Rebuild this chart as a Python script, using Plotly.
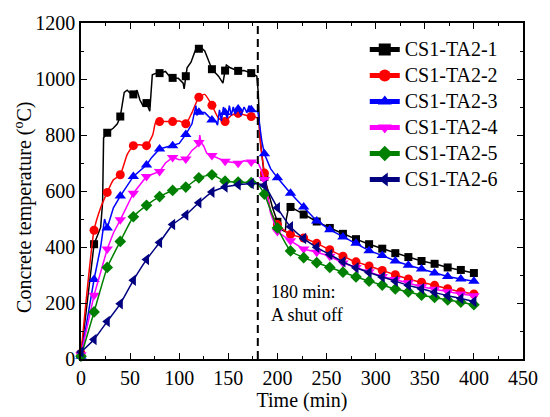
import plotly.graph_objects as go

# ---------------- data ----------------
names = ["CS1-TA2-1", "CS1-TA2-2", "CS1-TA2-3", "CS1-TA2-4", "CS1-TA2-5", "CS1-TA2-6"]

t_mark = [0, 13.3, 26.7, 40, 53.3, 66.7, 80, 93.3, 106.7, 120, 133.3, 146.7, 160, 173.3,
          186.7, 200, 213.3, 226.7, 240, 253.3, 266.7, 280, 293.3, 306.7, 320, 333.3,
          346.7, 360, 373.3, 386.7, 400]

T1 = [15, 410, 808, 866, 945, 914, 1021, 1004, 1010, 1108, 1035, 1030, 1029, 1021,
      650, 490, 543, 516, 491, 468, 447, 428, 410, 394, 378, 364, 350, 340, 327, 318, 307]
T2 = [20, 460, 595, 658, 762, 762, 848, 848, 840, 935, 906, 848, 877, 866,
      664, 480, 445, 432, 413, 390, 367, 347, 332, 316, 301, 286, 274, 263, 251, 240, 232]
T3 = [10, 284, 468, 582, 652, 693, 750, 762, 802, 881, 854, 880, 893, 890,
      733, 647, 592, 543, 493, 462, 436, 413, 387, 370, 350, 335, 321, 307, 295, 286, 278]
T4 = [15, 228, 393, 497, 592, 652, 670, 720, 714, 773, 727, 706, 699, 704,
      641, 455, 422, 393, 381, 367, 343, 327, 312, 295, 284, 272, 258, 249, 240, 232, 226]
T5 = [10, 168, 327, 420, 508, 549, 580, 602, 614, 647, 658, 635, 632, 630,
      589, 468, 386, 362, 344, 327, 310, 293, 278, 264, 250, 240, 228, 220, 211, 203, 194]
T6 = [25, 70, 134, 197, 281, 355, 416, 480, 514, 558, 596, 614, 622, 627,
      620, 540, 472, 430, 399, 373, 347, 326, 309, 293, 278, 263, 251, 238, 226, 216, 205]

# extra line-only readings (between markers)
t1_x = [20, 22, 23, 33, 37, 44, 47, 50, 57, 60, 63, 70, 72.6, 76, 86, 90, 99, 104, 105, 108,
        112, 117, 123, 126, 130, 140, 144.5, 148, 152, 166, 179, 180.5, 182, 195, 205, 208, 209, 211]
T1_x = [470, 560, 790, 825, 840, 952, 960, 950, 960, 925, 905, 885, 1015, 1020, 1027, 1010, 1003,
        985, 965, 1040, 1060, 1108, 1110, 1100, 1060, 1010, 985, 1050, 1040, 1030, 1010, 950, 800,
        540, 460, 455, 500, 535]
t2_x = [20, 33, 47, 60, 73, 76, 100, 113, 126, 140, 153, 180, 183, 193]
T2_x = [540, 640, 730, 765, 800, 845, 850, 880, 945, 860, 870, 860, 760, 530]
t3_x = [20, 24, 33, 72, 100, 113, 117, 118, 126, 137, 139, 141, 143, 145, 149, 151, 153, 155,
        157, 163, 166, 169, 171, 176, 180, 184, 193]
T3_x = [400, 500, 540, 720, 770, 840, 905, 870, 880, 850, 835, 890, 850, 900, 860, 905, 870, 900,
        875, 870, 900, 880, 905, 885, 885, 780, 680]
t4_x = [20, 33, 86, 100, 113, 118, 121, 122, 125, 128, 166, 180, 183, 193]
T4_x = [310, 450, 700, 712, 745, 760, 800, 775, 760, 735, 708, 702, 680, 520]
t5_x = [180, 183]
T5_x = [625, 610]
t6_x = [180]
T6_x = [626]

colors = ["#000000", "#ff0000", "#0000ff", "#ff00ff", "#008000", "#000080"]
symbols = ["square", "circle", "triangle-up", "triangle-down", "diamond", "triangle-left"]
msizes = [8, 9, 10, 10, 9, 10]
shapes = ["linear", "spline", "linear", "linear", "spline", "spline"]

marks = [T1, T2, T3, T4, T5, T6]
extras = [(t1_x, T1_x), (t2_x, T2_x), (t3_x, T3_x), (t4_x, T4_x), (t5_x, T5_x), (t6_x, T6_x)]

FONT = "Times New Roman, Liberation Serif, Times, serif"

fig = go.Figure()

for i in range(6):
    pts = sorted(list(zip(t_mark, marks[i])) + list(zip(extras[i][0], extras[i][1])))
    lx = [p[0] for p in pts]
    ly = [p[1] for p in pts]
    fig.add_trace(go.Scatter(
        x=lx, y=ly, mode="lines", showlegend=False, hoverinfo="skip",
        line=dict(color=colors[i], width=1.5, shape=shapes[i], smoothing=0.5),
    ))
    fig.add_trace(go.Scatter(
        x=t_mark, y=marks[i], mode="markers", showlegend=False, cliponaxis=False,
        marker=dict(symbol=symbols[i], size=msizes[i], color=colors[i], line=dict(width=0)),
    ))

for i in range(6):
    fig.add_trace(go.Scatter(
        x=[None], y=[None], mode="lines+markers",
        name='<span style="font-size:20px">' + names[i] + '</span>',
        line=dict(color=colors[i], width=2),
        marker=dict(symbol=symbols[i], size=msizes[i], color=colors[i], line=dict(width=0)),
    ))

fig.add_shape(type="line", x0=180, x1=180, y0=0, y1=1200, xref="x", yref="y",
              line=dict(color="black", width=2, dash="8px,5px"))

fig.add_annotation(x=191.5, y=197, xref="x", yref="y", xanchor="left", yanchor="middle",
                   text="180 min:<br>A shut off", showarrow=False, align="left",
                   font=dict(family=FONT, size=18, color="black"))

# y-axis title (placed slightly below the plot centre, as in the reference)
fig.add_annotation(x=-0.1317, y=0.452, xref="paper", yref="paper", xanchor="center",
                   yanchor="middle", textangle=-90, showarrow=False,
                   text="Concrete temperature (<sup>o</sup>C)",
                   font=dict(family=FONT, size=20, color="black"))

axis_common = dict(
    showline=True, linecolor="black", linewidth=1.5, mirror="ticks",
    ticks="inside", ticklen=6, tickwidth=1.2, tickcolor="black",
    showgrid=False, zeroline=False,
    tickfont=dict(family=FONT, size=20, color="black"),
)

fig.update_xaxes(range=[0, 450], dtick=50, tick0=0,
                 minor=dict(dtick=25, ticks="inside", ticklen=3, tickwidth=1.2, tickcolor="black"),
                 title=dict(text="Time (min)", font=dict(family=FONT, size=20, color="black"), standoff=2),
                 **axis_common)
fig.update_yaxes(range=[0, 1200], dtick=200, tick0=0,
                 minor=dict(dtick=100, ticks="inside", ticklen=3, tickwidth=1.2, tickcolor="black"),
                 **axis_common)

fig.update_layout(
    width=550, height=417,
    margin=dict(l=81, r=21, t=15, b=55),
    plot_bgcolor="white", paper_bgcolor="white",
    font=dict(family=FONT, size=20, color="black"),
    legend=dict(x=0.642, y=0.975, xanchor="left", yanchor="top",
                bgcolor="rgba(0,0,0,0)", borderwidth=0,
                font=dict(family=FONT, size=17.7, color="black"),
                tracegroupgap=0, itemsizing="constant"),
)

fig.write_html("out.html")
